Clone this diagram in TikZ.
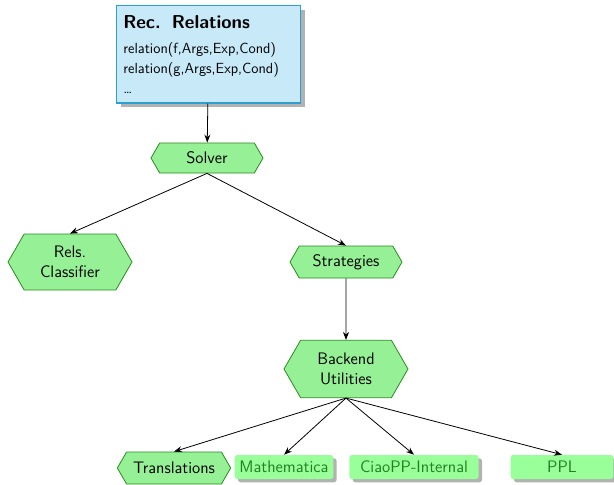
\documentclass[tikz,border=0pt]{standalone}
\usepackage{tikz}
\usetikzlibrary{shapes.symbols, shadows, arrows.meta}
\renewcommand{\familydefault}{\sfdefault}
\definecolor{relblue}{RGB}{199,233,248}
\definecolor{reledge}{RGB}{40,160,210}
\definecolor{hexfill}{RGB}{150,240,150}
\definecolor{hexedge}{RGB}{40,140,30}
\definecolor{toolfill}{RGB}{153,255,153}
\definecolor{tooltext}{RGB}{30,130,30}
\tikzset{
  every node/.style={font=\fontsize{12.5}{15}\selectfont},
  hexbox/.style={signal, signal to=west and east, signal pointer angle=120,
    draw=hexedge, fill=hexfill, line width=0.6pt, align=center, inner sep=1pt},
  toolbox/.style={rectangle, rounded corners=2pt, fill=toolfill, text=tooltext,
    minimum height=18pt, inner sep=1pt,
    drop shadow={shadow xshift=2.5pt, shadow yshift=-2.5pt, fill=black!30, opacity=1}},
  link/.style={-{Stealth[length=6pt,width=4.5pt]}, line width=0.6pt}
}
\begin{document}
\begin{tikzpicture}[x=0.75pt,y=-0.75pt]
\useasboundingbox (0,0) rectangle (614,485);
\node[draw=reledge, fill=relblue, line width=0.9pt, anchor=north west, minimum width=138pt, minimum height=73pt,
  align=left, inner xsep=4pt, inner ysep=6pt, text width=128pt,
  drop shadow={shadow xshift=3pt, shadow yshift=-3pt, fill=black!30, opacity=1}]
  (rel) at (116,5)
  {{\fontsize{14}{16}\selectfont\textbf{Rec.\ \ Relations}}\\[4pt]
   {\fontsize{11}{14.5}\selectfont relation(f,Args,Exp,Cond)}\\
   {\fontsize{11}{14.5}\selectfont relation(g,Args,Exp,Cond)}\\
   {\fontsize{11}{14.5}\selectfont \dots}};
\node[hexbox, minimum width=84pt, minimum height=22.5pt] (solver) at (207,158) {Solver};
\node[hexbox, minimum width=93pt, minimum height=42pt] (classif) at (70,262) {Rels.\\Classifier};
\node[hexbox, minimum width=84pt, minimum height=24pt] (strat) at (346,262) {Strategies};
\node[hexbox, minimum width=93pt, minimum height=43pt] (backend) at (346,369) {Backend\\Utilities};
\node[hexbox, minimum width=85pt, minimum height=24pt] (transl) at (174,468) {Translations};
\node[toolbox, minimum width=74pt] (mathem) at (284,467) {Mathematica};
\node[toolbox, minimum width=97pt] (ciaopp) at (414,467) {CiaoPP-Internal};
\node[toolbox, minimum width=77pt] (ppl) at (562,467) {PPL};
\draw[link] (rel) -- (solver);
\draw[link] (solver.south) -- (classif.north);
\draw[link] (solver.south) -- (strat.north);
\draw[link] (strat) -- (backend);
\draw[link] (backend.south) -- (transl.north);
\draw[link] (backend.south) -- (mathem.north);
\draw[link] (backend.south) -- (ciaopp.north);
\draw[link] (backend.south) -- (ppl.north);
\end{tikzpicture}
\end{document}
